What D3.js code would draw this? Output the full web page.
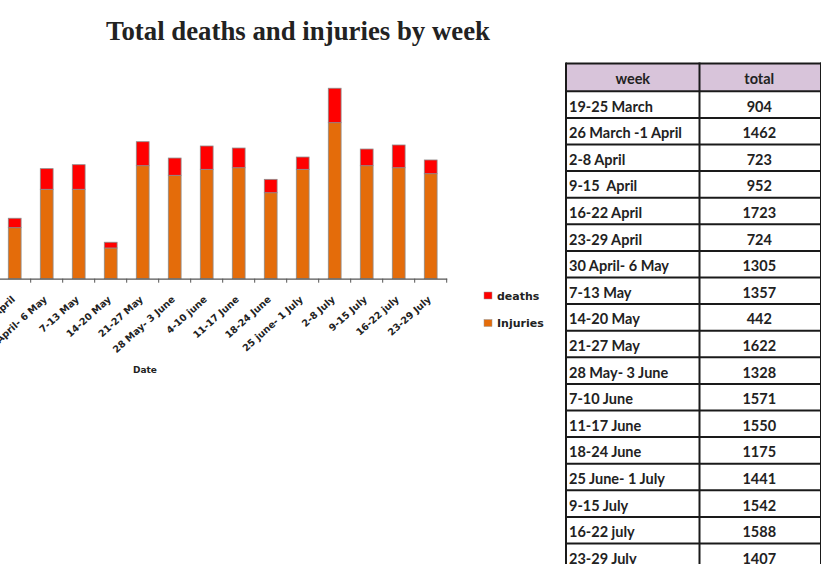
<!DOCTYPE html>
<html><head><meta charset="utf-8">
<script src="https://cdn.jsdelivr.net/npm/d3@7"></script>
<style>body{margin:0;background:#fff;overflow:hidden}svg{display:block}</style>
</head><body>
<svg id="c" width="821" height="564"></svg>
<script>
// Chart data (visible weeks)
const categories = ["23-29 April","30 April- 6 May","7-13 May","14-20 May","21-27 May","28 May- 3 June","4-10 june","11-17 June","18-24 June","25 june- 1 July","2-8 July","9-15 July","16-22 july","23-29 July"];
const deaths   = [112, 245, 292, 68, 285, 205, 277, 234, 159, 146, 409, 198, 270, 163];
const injuries = [606, 1062, 1062, 365, 1342, 1228, 1299, 1318, 1021, 1299, 1853, 1342, 1318, 1247];
const seriesNames = ["deaths","Injuries"];
// Table data
const weeks  = ["19-25 March","26 March -1 April","2-8 April","9-15  April","16-22 April","23-29 April","30 April- 6 May","7-13 May","14-20 May","21-27 May","28 May- 3 June","7-10 June","11-17 June","18-24 June","25 June- 1 July","9-15 July","16-22 july","23-29 July"];
const totals = [904, 1462, 723, 952, 1723, 724, 1305, 1357, 442, 1622, 1328, 1571, 1550, 1175, 1441, 1542, 1588, 1407];
const tableHeader = ["week","total"];

const svg = d3.select("#c");
const colors = {deaths:"#ff0000", Injuries:"#e46c0a"};

svg.append("text").attr("x",298).attr("y",39.5).attr("text-anchor","middle")
  .attr("font-family","'Liberation Serif',serif").attr("font-weight","bold")
  .attr("font-size",26.8).attr("fill","#222").text("Total deaths and injuries by week");

const x = d3.scaleBand().domain(categories).range([-1.3, 446.7]).paddingInner(0.6).paddingOuter(0.3);
const y = d3.scaleLinear().domain([0, 2300]).range([278.7, 278.7 - 2300*0.0842]);

const rows = categories.map((c,i)=>({cat:c, deaths:deaths[i], Injuries:injuries[i]}));
const stack = d3.stack().keys(["Injuries","deaths"])(rows);

const g = svg.append("g");
g.selectAll("g.s").data(stack).join("g").attr("class","s")
  .attr("fill", d=>colors[d.key])
  .selectAll("rect").data(d=>d).join("rect")
  .attr("x", d=>x(d.data.cat)).attr("width", x.bandwidth())
  .attr("y", d=>y(d[1])).attr("height", d=>y(d[0])-y(d[1]))
  .attr("stroke","#8c8c8c").attr("stroke-width",0.8);

// x axis
const axis = d3.axisBottom(x).tickSize(0).tickFormat(d=>d);
const ax = svg.append("g").attr("transform","translate(0,278.7)").call(axis);
ax.select(".domain").attr("stroke","#555").attr("stroke-width",1.2);
ax.selectAll(".tick text")
  .attr("font-family","'DejaVu Sans',sans-serif").attr("font-weight","bold").attr("font-size",9.6)
  .attr("fill","#222").attr("text-anchor","end")
  .attr("x",0).attr("y",0).attr("dy",0)
  .attr("transform","translate(1,21.5) rotate(-42)");
// boundary ticks
const step = x.step();
const bounds = categories.map(c=>x(c) + x.bandwidth()/2 + step/2);
ax.selectAll("line.bt").data(bounds).join("line").attr("class","bt")
  .attr("x1",d=>d).attr("x2",d=>d).attr("y1",0).attr("y2",4)
  .attr("stroke","#555").attr("stroke-width",1);

svg.append("text").attr("x",145).attr("y",373).attr("text-anchor","middle")
  .attr("font-family","'DejaVu Sans',sans-serif").attr("font-weight","bold").attr("font-size",9)
  .attr("fill","#222").text("Date");

// legend
const lg = svg.append("g");
seriesNames.forEach((n,i)=>{
  lg.append("rect").attr("x",484).attr("y",292+i*27.5).attr("width",8).attr("height",7)
    .attr("fill",colors[n]).attr("stroke","#999").attr("stroke-width",0.5);
  lg.append("text").attr("x",497).attr("y",299.5+i*27.5)
    .attr("font-family","'DejaVu Sans',sans-serif").attr("font-weight","bold").attr("font-size",11)
    .attr("fill","#222").text(n);
});

// table
const tx0 = 566, tx1 = 699.5, tx2 = 821, top0 = 63.5, hdrH = 27.8, rowH = 26.6;
const tb = svg.append("g");
tb.append("rect").attr("x",tx0).attr("y",top0).attr("width",tx2-tx0).attr("height",hdrH).attr("fill","#d8c4da");
const tf = "'Lato','Carlito',sans-serif";
const fs = 14.5;
tableHeader.forEach((h,i)=>{
  tb.append("text").attr("x", i===0 ? (tx0+tx1)/2 : (tx1+tx2)/2 - 1).attr("y",top0+20.5)
    .attr("text-anchor","middle").attr("font-family",tf).attr("font-weight","bold").attr("font-size",fs)
    .attr("fill","#222").text(h);
});
const ry = i => top0 + hdrH + i*rowH;
tb.selectAll("text.w").data(weeks).join("text").attr("class","w")
  .attr("x",tx0+3).attr("y",(d,i)=>ry(i)+20.3)
  .attr("font-family",tf).attr("font-weight","bold").attr("font-size",fs).attr("fill","#222")
  .style("white-space","pre").text(d=>d);
tb.selectAll("text.t").data(totals).join("text").attr("class","t")
  .attr("x",(tx1+tx2)/2 - 1).attr("y",(d,i)=>ry(i)+20.3).attr("text-anchor","middle")
  .attr("font-family",tf).attr("font-weight","bold").attr("font-size",fs).attr("fill","#222")
  .text(d=>d);
// grid lines
const lines = [top0];
for(let i=0;i<=weeks.length;i++) lines.push(ry(i));
tb.selectAll("line.h").data(lines).join("line").attr("class","h")
  .attr("x1",tx0).attr("x2",tx2).attr("y1",d=>d).attr("y2",d=>d)
  .attr("stroke","#1a1a1a").attr("stroke-width",2);
[tx0,tx1,tx2].forEach(xv=>{
  tb.append("line").attr("x1",xv).attr("x2",xv).attr("y1",top0-1).attr("y2",ry(weeks.length)+1)
    .attr("stroke","#1a1a1a").attr("stroke-width",2);
});
</script>
</body></html>
